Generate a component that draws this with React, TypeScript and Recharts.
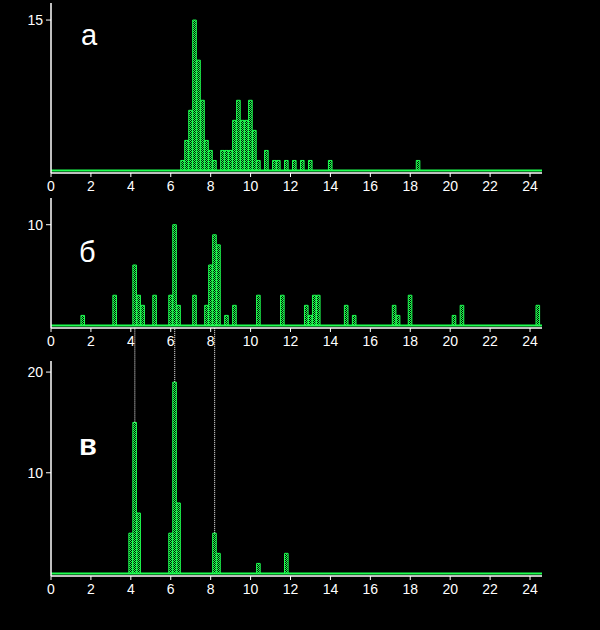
import React from 'react';
import { BarChart, Bar, XAxis, YAxis, ReferenceLine } from 'recharts';

const xTicks = [0, 2, 4, 6, 8, 10, 12, 14, 16, 18, 20, 22, 24];

// Panel а
const aBins = [6.6, 6.8, 7.0, 7.2, 7.4, 7.6, 7.8, 8.0, 8.2, 8.6, 8.8, 9.0, 9.2, 9.4, 9.6, 9.8, 10.0, 10.2, 10.4, 10.8, 11.2, 11.4, 11.8, 12.2, 12.6, 13.0, 14.0, 18.4];
const aCounts = [1, 3, 6, 15, 11, 7, 3, 2, 1, 2, 2, 2, 5, 7, 5, 5, 7, 4, 1, 2, 1, 1, 1, 1, 1, 1, 1, 1];
const aYTicks = [15];

// Panel б
const bBins = [1.6, 3.2, 4.2, 4.4, 4.6, 5.2, 6.0, 6.2, 6.4, 7.2, 7.8, 8.0, 8.2, 8.4, 8.8, 9.2, 10.4, 11.6, 12.8, 13.0, 13.2, 13.4, 14.8, 15.2, 17.2, 17.4, 18.0, 20.2, 20.6, 24.4];
const bCounts = [1, 3, 6, 3, 2, 3, 3, 10, 2, 3, 2, 6, 9, 8, 1, 2, 3, 3, 2, 1, 3, 3, 2, 1, 2, 1, 3, 1, 2, 2];
const bYTicks = [10];

// Panel в
const cBins = [4.0, 4.2, 4.4, 6.0, 6.2, 6.4, 8.2, 8.4, 10.4, 11.8];
const cCounts = [4, 15, 6, 4, 19, 7, 4, 2, 1, 2];
const cYTicks = [10, 20];

// dotted guide lines (x position, bar top it ends on)
const guideX = [4.2, 6.2, 8.2];
const guideBottom = [15, 19, 4];
const guideTop = 24.4;

const GREEN = '#1eff50';
const WHITE = '#ffffff';
const FONT = '"Liberation Sans", Arial, sans-serif';

type PanelProps = {
  bins: number[];
  counts: number[];
  top: number;
  height: number;
  marginTop: number;
  yDomain: [number, number];
  yTicks: number[];
  children?: React.ReactNode;
};

function Panel({ bins, counts, top, height, marginTop, yDomain, yTicks, children }: PanelProps) {
  const data = bins.map((x, i) => ({ x, n: counts[i] }));
  const tickStyle = { fill: WHITE, fontSize: 14, fontFamily: FONT };
  return (
    <div style={{ position: 'absolute', left: 0, top, width: 600, height }}>
      <BarChart
        width={600}
        height={height}
        data={data}
        margin={{ top: marginTop, right: 58, bottom: 0, left: 11 }}
        barCategoryGap={0}
        barGap={0}
      >
        <XAxis
          dataKey="x"
          type="number"
          domain={[0, 24.6]}
          ticks={xTicks}
          interval={0}
          allowDataOverflow
          height={27}
          tickSize={4}
          tickMargin={4}
          axisLine={{ stroke: WHITE, strokeWidth: 1.5 }}
          tickLine={{ stroke: WHITE }}
          tick={tickStyle}
        />
        <YAxis
          type="number"
          domain={yDomain}
          ticks={yTicks}
          interval={0}
          allowDataOverflow
          width={40}
          tickSize={5}
          tickMargin={3}
          axisLine={{ stroke: WHITE, strokeWidth: 1.5 }}
          tickLine={{ stroke: WHITE }}
          tick={tickStyle}
        />
        <ReferenceLine y={0} stroke={GREEN} strokeWidth={2} />
        {children}
        <Bar
          dataKey="n"
          fill="url(#chk)"
          stroke={GREEN}
          strokeWidth={1}
          barSize={4}
          isAnimationActive={false}
        />
      </BarChart>
    </div>
  );
}

export default function App() {
  return (
    <div
      style={{
        position: 'fixed',
        left: 0,
        top: 0,
        width: 600,
        height: 630,
        background: '#000',
        fontFamily: FONT,
        overflow: 'hidden',
      }}
    >
      <svg width={0} height={0} style={{ position: 'absolute' }}>
        <defs>
          <pattern id="chk" width={2} height={2} patternUnits="userSpaceOnUse">
            <rect x={0} y={0} width={2} height={2} fill="#000" />
            <rect x={0} y={0} width={1} height={1} fill={GREEN} />
            <rect x={1} y={1} width={1} height={1} fill={GREEN} />
          </pattern>
        </defs>
      </svg>
      <Panel bins={aBins} counts={aCounts} top={0} height={200} marginTop={3} yDomain={[-0.25, 16.7]} yTicks={aYTicks} />
      <Panel bins={bBins} counts={bCounts} top={195} height={160} marginTop={3} yDomain={[-0.25, 12.65]} yTicks={bYTicks} />
      <Panel bins={cBins} counts={cCounts} top={326} height={277} marginTop={35} yDomain={[-0.25, 21.1]} yTicks={cYTicks}>
        {guideX.map((gx, i) => (
          <ReferenceLine
            key={i}
            segment={[{ x: gx, y: guideBottom[i] }, { x: gx, y: guideTop }]}
            ifOverflow="visible"
            stroke={WHITE}
            strokeWidth={1}
            strokeDasharray="1 1"
          />
        ))}
      </Panel>
      <svg width={600} height={630} style={{ position: 'absolute', left: 0, top: 0, pointerEvents: 'none' }}>
        <text x={81} y={45} fill={WHITE} fontSize={29} fontFamily={FONT}>а</text>
        <text x={79} y={262} fill={WHITE} fontSize={29} fontFamily={FONT}>б</text>
        <text x={79} y={455} fill={WHITE} fontSize={29} fontWeight="bold" fontFamily={FONT}>в</text>
      </svg>
    </div>
  );
}
